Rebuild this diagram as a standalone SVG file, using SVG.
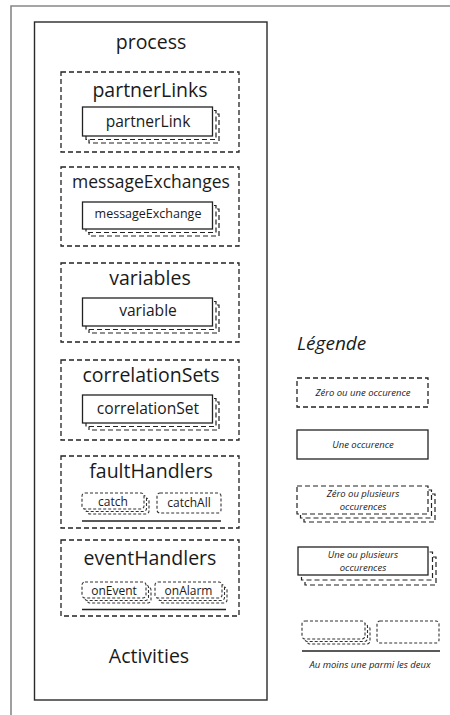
<svg xmlns="http://www.w3.org/2000/svg" width="450" height="715" viewBox="0 0 450 715">
<style>
text{font-family:"Open Sans","Noto Sans","DejaVu Sans",sans-serif;fill:#1a1a1a;text-anchor:middle}
.h{font-size:19.5px}
.l{font-size:15.6px}
.s{font-size:12px}
.lg{font-size:9.5px;font-style:italic}
.solid{fill:#fff;stroke:#222;stroke-width:1.3}
.dash{fill:none;stroke:#222;stroke-width:1.3;stroke-dasharray:5 3}
.dashw{fill:#fff;stroke:#222;stroke-width:1.2;stroke-dasharray:5 3}
.sd{fill:#fff;stroke:#333;stroke-width:1.1;stroke-dasharray:3 2}
.line{stroke:#222;stroke-width:1.3}
</style>
<rect width="450" height="715" fill="#fff"/>
<g id="frame">
<path d="M11,715 V6 H450" fill="none" stroke="#888" stroke-width="1.6"/>
</g>
<g id="process">
<rect x="34.5" y="22" width="232.5" height="678" fill="none" stroke="#2a2a2a" stroke-width="1.4"/>
<text class="h" x="151" y="49">process</text>
</g>
<g id="partnerLinks">
<rect class="dash" x="61" y="72" width="178" height="80"/>
<text class="h" x="150" y="97">partnerLinks</text>
<g id="partnerLink">
<rect class="dashw" x="89" y="114" width="130" height="29"/>
<rect class="dashw" x="86" y="110.5" width="130" height="29"/>
<rect class="solid" x="82.5" y="107" width="130" height="29"/>
<text class="l" x="148" y="126.5">partnerLink</text>
</g>
</g>
<g id="messageExchanges">
<rect class="dash" x="61" y="167" width="178" height="79"/>
<text style="font-size:17.5px" x="151" y="188">messageExchanges</text>
<g id="messageExchange">
<rect class="dashw" x="89" y="209" width="130" height="27"/>
<rect class="dashw" x="86" y="205.5" width="130" height="27"/>
<rect class="solid" x="82.5" y="202" width="130" height="27"/>
<text style="font-size:12.5px" x="148" y="217.5">messageExchange</text>
</g>
</g>
<g id="variables">
<rect class="dash" x="61" y="263" width="178" height="79"/>
<text class="h" x="150" y="285">variables</text>
<g id="variable">
<rect class="dashw" x="89" y="305" width="130" height="28"/>
<rect class="dashw" x="86" y="301.5" width="130" height="28"/>
<rect class="solid" x="82.5" y="298" width="130" height="28"/>
<text class="l" x="148" y="316">variable</text>
</g>
</g>
<g id="correlationSets">
<rect class="dash" x="61" y="360" width="178" height="80"/>
<text class="h" x="151" y="381.5">correlationSets</text>
<g id="correlationSet">
<rect class="dashw" x="89" y="402" width="130" height="28"/>
<rect class="dashw" x="86" y="398.5" width="130" height="28"/>
<rect class="solid" x="82.5" y="395" width="130" height="28"/>
<text class="l" x="148" y="414">correlationSet</text>
</g>
</g>
<g id="faultHandlers">
<rect class="dash" x="61" y="456" width="178" height="72"/>
<text class="h" x="151" y="478">faultHandlers</text>
<g id="catch">
<rect class="sd" x="87" y="498" width="62" height="16" rx="3"/>
<rect class="sd" x="84.5" y="495.5" width="62" height="16" rx="3"/>
<rect class="sd" x="82" y="493" width="62" height="16" rx="3"/>
<text class="s" x="113" y="505.5">catch</text>
</g>
<g id="catchAll">
<rect class="sd" x="157" y="493" width="64" height="20" rx="3"/>
<text class="s" x="189" y="507">catchAll</text>
</g>
<line class="line" x1="82" y1="521" x2="221" y2="521"/>
</g>
<g id="eventHandlers">
<rect class="dash" x="61" y="540" width="178" height="76"/>
<text class="h" x="150" y="565">eventHandlers</text>
<g id="onEvent">
<rect class="sd" x="87" y="587" width="64" height="16" rx="3"/>
<rect class="sd" x="84.5" y="584.5" width="64" height="16" rx="3"/>
<rect class="sd" x="82" y="582" width="64" height="16" rx="3"/>
<text class="s" x="114" y="594.5">onEvent</text>
</g>
<g id="onAlarm">
<rect class="sd" x="160" y="587" width="67" height="16" rx="3"/>
<rect class="sd" x="157.5" y="584.5" width="67" height="16" rx="3"/>
<rect class="sd" x="155" y="582" width="67" height="16" rx="3"/>
<text class="s" x="188.5" y="594.5">onAlarm</text>
</g>
<line class="line" x1="82" y1="609.5" x2="226" y2="609.5"/>
</g>
<g id="activities">
<text class="h" x="149" y="663">Activities</text>
</g>
<g id="legend">
<text style="font-size:19px;font-style:italic;text-anchor:start" x="297" y="350">Légende</text>
<g id="leg-zero-one">
<rect class="dash" x="297" y="378" width="131" height="29"/>
<text class="lg" x="363" y="396">Zéro ou une occurence</text>
</g>
<g id="leg-one">
<rect class="solid" x="297" y="430" width="131" height="29"/>
<text class="lg" x="363" y="448">Une occurence</text>
</g>
<g id="leg-zero-many">
<rect class="dashw" x="304" y="494" width="131" height="28"/>
<rect class="dashw" x="300.5" y="490" width="131" height="28"/>
<rect class="dashw" x="297" y="486" width="131" height="28"/>
<text class="lg" x="363" y="496.5">Zéro ou plusieurs</text>
<text class="lg" x="363" y="509.5">occurences</text>
</g>
<g id="leg-one-many">
<rect class="dashw" x="305" y="557" width="131" height="28"/>
<rect class="dashw" x="301.5" y="552" width="131" height="28"/>
<rect class="solid" x="298" y="547" width="130" height="28"/>
<text class="lg" x="363" y="558">Une ou plusieurs</text>
<text class="lg" x="363" y="571">occurences</text>
</g>
<g id="leg-choice">
<rect class="sd" x="307" y="626" width="63" height="18" rx="3"/>
<rect class="sd" x="304.5" y="623.5" width="63" height="18" rx="3"/>
<rect class="sd" x="302" y="621" width="63" height="18" rx="3"/>
<rect class="sd" x="377" y="621" width="62" height="22" rx="3"/>
<line class="line" x1="302" y1="651" x2="440" y2="651"/>
<text class="lg" x="370" y="668">Au moins une parmi les deux</text>
</g>
</g>
</svg>
